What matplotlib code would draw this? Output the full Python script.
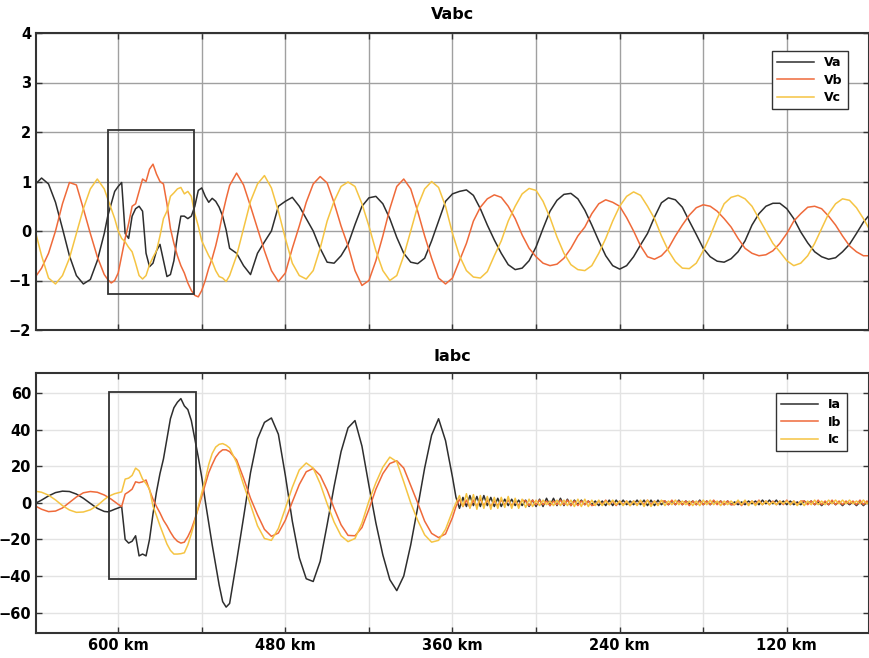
import numpy as np
import matplotlib
matplotlib.use('Agg')
import matplotlib.pyplot as plt
from matplotlib.patches import Rectangle

# distance axis (km), finer steps around the fault and in the ripple part
km_pre = np.arange(660, 609, -5)          # 660 .. 610
km_fault = np.arange(607.5, 522, -2.5)    # 607.5 .. 522.5
km_post_top = np.arange(520, 59, -5)      # 520 .. 60
km_post_bot = np.arange(520, 359, -5)     # 520 .. 360
km_ripple = np.arange(357.5, 59, -2.5)    # 357.5 .. 60

km_top = np.concatenate([km_pre, km_fault, km_post_top])
km_bot = np.concatenate([km_pre, km_fault, km_post_bot, km_ripple])

# ---- voltages ----
va = [0.93, 1.07, 0.95, 0.58, 0.05, -0.5, -0.9, -1.07, -0.98, -0.6, -0.05,
      0.3, 0.55, 0.8, 0.9, 0.98, -0.05, -0.15, 0.3, 0.45, 0.5,
      0.4, -0.45, -0.72, -0.65, -0.4, -0.27, -0.6, -0.92, -0.88, -0.6,
      -0.1, 0.3, 0.3, 0.25, 0.3, 0.5, 0.82, 0.87, 0.7, 0.58,
      0.66, 0.6, 0.48, 0.3, 0.02,
      -0.35, -0.45, -0.7, -0.88, -0.45, -0.22, 0.0, 0.5, 0.6, 0.68,
      0.5, 0.25, 0.0, -0.35, -0.63, -0.65, -0.5, -0.27, 0.13, 0.5,
      0.67, 0.7, 0.55, 0.25, -0.13, -0.45, -0.63, -0.66, -0.55, -0.2,
      0.2, 0.6, 0.75, 0.8, 0.83, 0.72, 0.45, 0.12, -0.18, -0.45,
      -0.68, -0.78, -0.75, -0.6, -0.32, 0.05, 0.4, 0.62, 0.74, 0.76,
      0.65, 0.42, 0.12, -0.2, -0.5, -0.7, -0.77, -0.7, -0.52, -0.28,
      -0.05, 0.28, 0.57, 0.67, 0.63, 0.48, 0.2, -0.07, -0.35, -0.52,
      -0.61, -0.63, -0.56, -0.42, -0.2, 0.12, 0.35, 0.5, 0.56, 0.56,
      0.45, 0.25, -0.02, -0.24, -0.42, -0.52, -0.57, -0.54, -0.42, -0.27,
      -0.05, 0.18, 0.35]

vb = [-0.95, -0.75, -0.45, 0.0, 0.55, 0.98, 0.93, 0.45, -0.05, -0.52, -0.88,
      -0.98, -1.05, -1.0, -0.85, -0.5, -0.15, 0.15, 0.5, 0.55, 0.8,
      1.05, 1.0, 1.25, 1.35, 1.15, 1.0, 0.95, 0.55, 0.05, -0.25,
      -0.5, -0.7, -0.85, -1.05, -1.2, -1.3, -1.33, -1.2, -1.0, -0.75,
      -0.55, -0.3, 0.0, 0.35, 0.65,
      0.92, 1.17, 0.93, 0.5, 0.05, -0.4, -0.8, -1.02, -0.85, -0.35,
      0.1, 0.58, 0.95, 1.1, 0.97, 0.57, 0.1, -0.3, -0.8, -1.1,
      -1.0, -0.6, -0.1, 0.45, 0.9, 1.05, 0.85, 0.4, -0.1, -0.55,
      -0.95, -1.07, -0.95, -0.6, -0.25, 0.2, 0.48, 0.65, 0.73, 0.68,
      0.5, 0.25, -0.08, -0.35, -0.52, -0.65, -0.7, -0.67, -0.55, -0.35,
      -0.1, 0.08, 0.35, 0.55, 0.63, 0.58, 0.5, 0.27, 0.0, -0.3,
      -0.52, -0.57, -0.5, -0.35, -0.1, 0.12, 0.32, 0.47, 0.53, 0.5,
      0.4, 0.25, 0.08, -0.15, -0.35, -0.45, -0.5, -0.48, -0.4, -0.25,
      -0.05, 0.2, 0.35, 0.48, 0.5, 0.45, 0.3, 0.12, -0.1, -0.3,
      -0.42, -0.5, -0.5]

vc = [0.05, -0.5, -0.95, -1.07, -0.9, -0.55, -0.05, 0.45, 0.85, 1.05, 0.85,
      0.65, 0.45, 0.25, 0.0, -0.15, -0.22, -0.33, -0.42, -0.65, -0.9,
      -0.97, -0.9, -0.68, -0.53, -0.4, -0.1, 0.25, 0.4, 0.7, 0.77,
      0.85, 0.88, 0.75, 0.8, 0.7, 0.35, 0.1, -0.2, -0.35, -0.5,
      -0.62, -0.8, -0.92, -0.95, -1.02,
      -0.9, -0.5, 0.05, 0.6, 0.95, 1.12, 0.87, 0.4, -0.15, -0.65,
      -0.9, -0.97, -0.8, -0.35, 0.2, 0.6, 0.9, 0.99, 0.9, 0.55,
      0.1, -0.4, -0.8, -1.0, -0.9, -0.5, 0.0, 0.5, 0.85, 1.0,
      0.88, 0.5, -0.05, -0.5, -0.8, -0.93, -0.95, -0.82, -0.5, -0.2,
      0.2, 0.5, 0.75, 0.86, 0.82, 0.6, 0.27, -0.12, -0.45, -0.68,
      -0.78, -0.8, -0.7, -0.45, -0.15, 0.2, 0.5, 0.7, 0.79, 0.72,
      0.5, 0.25, -0.1, -0.4, -0.62, -0.75, -0.76, -0.65, -0.4, -0.1,
      0.25, 0.55, 0.68, 0.72, 0.65, 0.5, 0.25, 0.0, -0.25, -0.42,
      -0.6, -0.7, -0.65, -0.5, -0.25, 0.05, 0.35, 0.55, 0.65, 0.62,
      0.47, 0.25, 0.0]

# ---- currents ----
ia = [-0.5, 1.5, 3.8, 5.6, 6.4, 6.2, 4.8, 2.5, -0.3, -3.0, -4.7,
      -4.9, -4.3, -3.5, -2.8, -2.0, -20, -22, -21, -18, -29,
      -28, -29, -20, -6, 6, 16, 24, 35, 46, 52,
      55, 57, 53, 51, 45, 35, 25, 14, 1, -11,
      -23, -34, -45, -54, -57,
      -55, -32, -8, 16.5, 35, 44, 46.4, 37.5, 15, -10,
      -30, -41.5, -43, -32, -12, 9, 28, 41, 45, 31,
      9.5, -11, -28.5, -42, -48, -40, -23, -2.5, 19, 37,
      46, 34, 14,
      3, -3, 3, -2, 4, -1.5, 3.5, -2, 4, -1.5,
      3, -2, 2.5, -2, 2, -1.5, 2, -1.5, 1.5, -1.5,
      1.5, -2, 1.5, -2, 2, -2, 2.5, -1.5, 2.5, -1.5,
      2.5, -1.5, 2, -1.5, 1.5, -1, 1.5, -1, 1, -1,
      1, -1.5, 1, -1.5, 1.5, -1.5, 1.5, -1, 1.5, -1,
      1, -1, 1.5, -1, 1.5, -1.5, 1.5, -1.5, 1.5, -1,
      1, -1, 1, -1, 1.5, -1, 1, -0.5, 1, -1,
      1.5, -1, 1, -1, 1, -0.5, 1, -1, 1, -1,
      0.5, -1, 0.5, -1, 1, -0.5, 1, -1, 1.5, -0.5,
      1.5, -0.5, 1.5, -1, 1, -1, 1, -1, 0.5, -1,
      1, -0.5, 1, -1, 0.5, -1.5, 0.5, -1, 1, -1,
      0.5, -1.5, 0.5, -1, 0.5, -1.5, 0.5, -1.5, 0.5, -1]

ib = [-1.5, -3.5, -4.8, -4.5, -2.8, 0.2, 3.2, 5.5, 6.2, 5.8, 4.3,
      3.2, 2.0, 0.6, -0.8, -2.0, 4.8, 6, 7.5, 11.5, 11,
      11.5, 12.5, 7, 2, -2, -5.5, -9.5, -12.5, -16, -19,
      -21, -22, -21.5, -18.5, -14.5, -9, -3, 3.5, 10, 16.5,
      21, 25, 27.5, 29, 29,
      28, 23.5, 13.5, 2.5, -6.5, -14.5, -18.3, -16.5, -9.5, 0.5,
      10, 17, 18.8, 15, 7, -3, -12, -17.8, -18, -13.5,
      -3.5, 7.5, 16, 21.5, 23, 19, 9.5, 0, -10, -16.7,
      -19, -17, -8,
      -2, 2, -2, 1.5, -2.5, 1.5, -2, 2, -1.5, 1.5,
      -2, 1, -1.5, 1.5, -1, 1.5, -1.5, 1, -1.5, 1.5,
      1, -1.5, 1.5, -1, 1.5, -1, 1, -1.5, 1, -1,
      1.5, -1, 1.5, -1.5, 1, -1.5, 1, -1, 1, -1.5,
      -1, 1, -1, 1.5, -1, 1, -1.5, 1, -1, 1,
      -1.5, 1, -1, 1, -1, 1.5, -1, 1, -1, 1,
      1, -1, 1.5, -1, 1, -1, 1, -1.5, 1, -1,
      1, -1, 1, -1, 1.5, -1, 1, -1, 1, -1,
      -1, 1, -1.5, 1, -1, 1, -1, 1.5, -1, 1,
      -1, 1, -1, 1, -1, 1.5, -1, 1, -1, 1,
      1, -1, 1, -1, 1.5, -1, 1, -1, 1.5, -1,
      1, -1, 1, -0.5, 1, -1, 1.5, -1, 1, -0.5]

ic = [6.4, 5.8, 4.2, 1.6, -1.5, -3.9, -5.2, -5.0, -3.8, -1.5, 1.8,
      3.2, 4.2, 5.0, 5.5, 6, 13, 13.5, 15, 19, 17.5,
      13, 10.5, 7.5, -1.8, -7, -12.5, -17.5, -22.5, -26, -28,
      -28, -27.8, -27.3, -23, -17, -10, -2, 5.5, 12.5, 21,
      27, 30.5, 32, 32.4, 31.5,
      30, 22, 10, -1, -12.5, -19.5, -20.5, -14, -3, 8.5,
      18, 21.8, 19, 10.5, -0.5, -10.5, -18, -21.2, -19.5, -11,
      1, 11, 19.5, 25, 22.5, 11.5, 0, -9.5, -17.5, -21.5,
      -20.5, -14.5, -4.5,
      0, 4, -2, 5, -3, 4.5, -3.5, 4, -3, 3.5,
      -3.5, 3, -3, 3, -2.5, 3.5, -3, 2.5, -3, 2,
      -2.5, 2, -2, 1.5, -1.5, 1.5, -1, 1, -1.5, 1.5,
      -1.5, 1.5, -1.5, 1.5, -2, 2, -2, 2, -2, 1.5,
      -1.5, 1.5, -1.5, 1, -1, 1.5, -1, 1, -1.5, 1,
      -1.5, 1, -1.5, 1.5, -2, 1.5, -2, 1, -1.5, 1.5,
      -1.5, 1, -1, 1.5, -1, 1, -1, 1, -1.5, 1,
      -1.5, 1.5, -1, 1.5, -1, 1, -1.5, 1, -1, 1,
      -1, 1.5, -1, 1.5, -1.5, 1, -1.5, 1, -1, 1,
      -1, 0.5, -1, 1, -0.5, 1, -1, 1, -1.5, 1,
      -1.5, 1, -1, 1.5, -1, 1, -1, 1.5, -0.5, 1.5,
      -0.5, 1.5, -0.5, 1.5, -0.5, 1, -0.5, 1.5, -0.5, 1.5]

for s in (va, vb, vc):
    assert len(s) == len(km_top), (len(s), len(km_top))
for s in (ia, ib, ic):
    assert len(s) == len(km_bot), (len(s), len(km_bot))

xticks = [600, 540, 480, 420, 360, 300, 240, 180, 120]
xticklabels = ['600 km', '', '480 km', '', '360 km', '', '240 km', '', '120 km']

c_a = '#2e2e2e'
c_b = '#ef6a3a'
c_c = '#f5c443'

fig = plt.figure(figsize=(8.7, 6.58), dpi=100)
ax1 = fig.add_axes([36/870, 1 - 330/658, 833/870, 297/658])
ax2 = fig.add_axes([36/870, 1 - 632.7/658, 833/870, 259.7/658])

ax1.plot(km_top, va, color=c_a, lw=1.1, label='Va')
ax1.plot(km_top, vb, color=c_b, lw=1.1, label='Vb')
ax1.plot(km_top, vc, color=c_c, lw=1.1, label='Vc')
ax1.add_patch(Rectangle((545.4, -1.28), 607.6 - 545.4, 2.04 + 1.28,
                        fill=False, edgecolor='#333333', lw=1.3, zorder=5))
ax1.set_ylim(-2, 4)
ax1.set_yticks([-2, -1, 0, 1, 2, 3, 4])
ax1.set_xticks(xticks)
ax1.set_xticklabels([''] * len(xticks))
ax1.grid(True, color='#a0a0a0', lw=1.0)
ax1.set_title('Vabc', fontweight='bold', fontsize=11.5, pad=10)

ax2.plot(km_bot, ia, color=c_a, lw=1.1, label='Ia')
ax2.plot(km_bot, ib, color=c_b, lw=1.1, label='Ib')
ax2.plot(km_bot, ic, color=c_c, lw=1.1, label='Ic')
ax2.add_patch(Rectangle((544.2, -41.4), 606.7 - 544.2, 60.7 + 41.4,
                        fill=False, edgecolor='#333333', lw=1.3, zorder=5))
ax2.set_ylim(-71, 71)
ax2.set_yticks([-60, -40, -20, 0, 20, 40, 60])
ax2.set_xticks(xticks)
ax2.set_xticklabels(xticklabels)
ax2.grid(True, color='#e3e3e3', lw=1.0)
ax2.set_title('Iabc', fontweight='bold', fontsize=11.5, pad=9)

for ax in (ax1, ax2):
    ax.set_xlim(659, 61)
    ax.set_axisbelow(True)
    ax.tick_params(direction='in', top=True, right=True, length=4, width=1,
                   labelsize=10.5, color='#333333')
    for lab in ax.get_xticklabels() + ax.get_yticklabels():
        lab.set_fontweight('bold')
    for sp in ax.spines.values():
        sp.set_color('#333333')
        sp.set_linewidth(1.5)

leg1 = ax1.legend(loc='upper right', bbox_to_anchor=(1 - 15/833, 1 - 12/297),
                  prop={'weight': 'bold', 'size': 9}, handlelength=3.0,
                  fancybox=False, framealpha=1, edgecolor='#333333',
                  borderpad=0.4, labelspacing=0.35)
leg2 = ax2.legend(loc='upper right', bbox_to_anchor=(1 - 16/833, 1 - 14/259.7),
                  prop={'weight': 'bold', 'size': 9}, handlelength=3.0,
                  fancybox=False, framealpha=1, edgecolor='#333333',
                  borderpad=0.4, labelspacing=0.35)

fig.savefig('out.png', dpi=100)
